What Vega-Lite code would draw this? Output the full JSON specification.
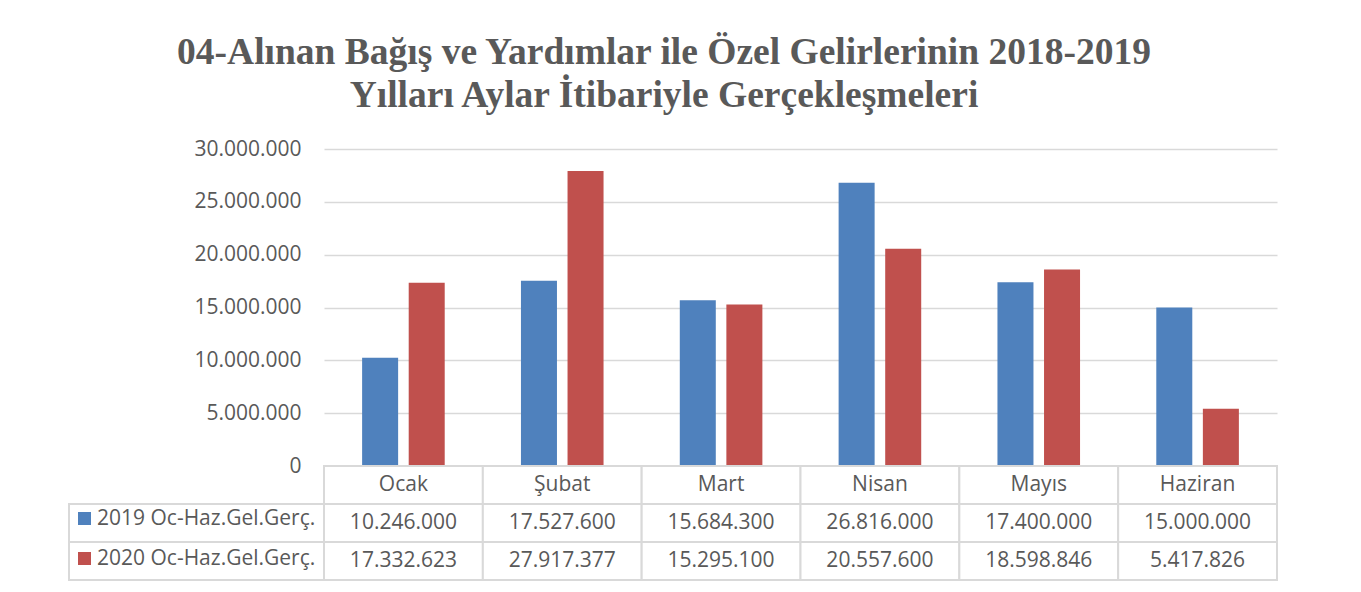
{
  "$schema": "https://vega.github.io/schema/vega-lite/v6.json",
  "background": "white",
  "padding": {"left": 68, "top": 33, "right": 10, "bottom": 5},
  "title": {
    "text": ["04-Alınan Bağış ve Yardımlar ile Özel Gelirlerinin 2018-2019", "Yılları Aylar İtibariyle Gerçekleşmeleri"],
    "font": "Liberation Serif",
    "fontSize": 37.5,
    "fontWeight": "bold",
    "color": "#595959",
    "lineHeight": 43,
    "anchor": "middle",
    "dx": -9,
    "offset": 24
  },
  "datasets": {
    "gelir": [
      {"ay": "Ocak", "seri": "2019 Oc-Haz.Gel.Gerç.", "deger": 10246000},
      {"ay": "Şubat", "seri": "2019 Oc-Haz.Gel.Gerç.", "deger": 17527600},
      {"ay": "Mart", "seri": "2019 Oc-Haz.Gel.Gerç.", "deger": 15684300},
      {"ay": "Nisan", "seri": "2019 Oc-Haz.Gel.Gerç.", "deger": 26816000},
      {"ay": "Mayıs", "seri": "2019 Oc-Haz.Gel.Gerç.", "deger": 17400000},
      {"ay": "Haziran", "seri": "2019 Oc-Haz.Gel.Gerç.", "deger": 15000000},
      {"ay": "Ocak", "seri": "2020 Oc-Haz.Gel.Gerç.", "deger": 17332623},
      {"ay": "Şubat", "seri": "2020 Oc-Haz.Gel.Gerç.", "deger": 27917377},
      {"ay": "Mart", "seri": "2020 Oc-Haz.Gel.Gerç.", "deger": 15295100},
      {"ay": "Nisan", "seri": "2020 Oc-Haz.Gel.Gerç.", "deger": 20557600},
      {"ay": "Mayıs", "seri": "2020 Oc-Haz.Gel.Gerç.", "deger": 18598846},
      {"ay": "Haziran", "seri": "2020 Oc-Haz.Gel.Gerç.", "deger": 5417826}
    ],
    "aylar": [
      {"ay": "Ocak", "satir": "Ay"},
      {"ay": "Şubat", "satir": "Ay"},
      {"ay": "Mart", "satir": "Ay"},
      {"ay": "Nisan", "satir": "Ay"},
      {"ay": "Mayıs", "satir": "Ay"},
      {"ay": "Haziran", "satir": "Ay"}
    ],
    "seriler": [
      {"satir": "2019 Oc-Haz.Gel.Gerç."},
      {"satir": "2020 Oc-Haz.Gel.Gerç."}
    ]
  },
  "columns": 2,
  "spacing": 0,
  "bounds": "flush",
  "resolve": {"scale": {"x": "independent", "y": "independent"}},
  "concat": [
    {
      "width": 255,
      "height": 317,
      "data": {"values": []},
      "mark": "point",
      "encoding": {}
    },
    {
      "width": 953,
      "height": 317,
      "data": {"name": "gelir"},
      "mark": {"type": "bar"},
      "encoding": {
        "x": {
          "field": "ay", "type": "nominal",
          "scale": {"domain": ["Ocak", "Şubat", "Mart", "Nisan", "Mayıs", "Haziran"], "paddingInner": 0.48, "paddingOuter": 0.24},
          "axis": null
        },
        "xOffset": {
          "field": "seri", "type": "nominal",
          "scale": {"paddingInner": 0.227, "paddingOuter": 0}
        },
        "y": {
          "field": "deger", "type": "quantitative",
          "scale": {"domain": [0, 30000000], "nice": false},
          "axis": {
            "title": null,
            "values": [0, 5000000, 10000000, 15000000, 20000000, 25000000, 30000000],
            "format": ",.0f",
            "domain": false,
            "ticks": false,
            "labelPadding": 23,
            "labelFont": "Open Sans",
            "labelFontSize": 21,
            "labelColor": "#595959",
            "gridColor": "#d9d9d9",
            "gridWidth": 1.5
          }
        },
        "color": {
          "field": "seri", "type": "nominal",
          "scale": {"domain": ["2019 Oc-Haz.Gel.Gerç.", "2020 Oc-Haz.Gel.Gerç."], "range": ["#4f81bd", "#c0504d"]},
          "legend": {
            "title": null,
            "orient": "none",
            "legendX": 5,
            "legendY": 359,
            "padding": 0,
            "symbolType": "square",
            "symbolSize": 169,
            "symbolStrokeWidth": 0,
            "symbolOpacity": 1,
            "labelFont": "Open Sans",
            "labelFontSize": 21,
            "labelColor": "#595959",
            "labelOffset": 2,
            "rowPadding": 18,
            "labelLimit": 300
          }
        }
      }
    },
    {
      "width": 255,
      "height": 114,
      "data": {"name": "seriler"},
      "mark": {"type": "rect", "fill": "white", "stroke": "#d9d9d9", "strokeWidth": 2},
      "encoding": {
        "y": {
          "field": "satir", "type": "nominal",
          "scale": {"domain": ["Ay", "2019 Oc-Haz.Gel.Gerç.", "2020 Oc-Haz.Gel.Gerç."], "paddingInner": 0, "paddingOuter": 0},
          "axis": null
        }
      }
    },
    {
      "width": 953,
      "height": 114,
      "layer": [
        {
          "data": {"name": "aylar"},
          "mark": {"type": "rect", "fill": "white", "stroke": "#d9d9d9", "strokeWidth": 2},
          "encoding": {
            "x": {"field": "ay", "type": "nominal", "scale": {"domain": ["Ocak", "Şubat", "Mart", "Nisan", "Mayıs", "Haziran"], "paddingInner": 0, "paddingOuter": 0}, "axis": null},
            "y": {"field": "satir", "type": "nominal", "scale": {"domain": ["Ay", "2019 Oc-Haz.Gel.Gerç.", "2020 Oc-Haz.Gel.Gerç."], "paddingInner": 0, "paddingOuter": 0}, "axis": null}
          }
        },
        {
          "data": {"name": "aylar"},
          "mark": {"type": "text", "font": "Open Sans", "fontSize": 21, "color": "#595959"},
          "encoding": {
            "x": {"field": "ay", "type": "nominal"},
            "y": {"field": "satir", "type": "nominal"},
            "text": {"field": "ay"}
          }
        },
        {
          "data": {"name": "gelir"},
          "mark": {"type": "rect", "fill": "white", "stroke": "#d9d9d9", "strokeWidth": 2},
          "encoding": {
            "x": {"field": "ay", "type": "nominal"},
            "y": {"field": "seri", "type": "nominal"}
          }
        },
        {
          "data": {"name": "gelir"},
          "mark": {"type": "text", "font": "Open Sans", "fontSize": 21, "color": "#595959"},
          "encoding": {
            "x": {"field": "ay", "type": "nominal"},
            "y": {"field": "seri", "type": "nominal"},
            "text": {"field": "deger", "type": "quantitative", "format": ",.0f"}
          }
        }
      ]
    }
  ],
  "config": {
    "view": {"stroke": null},
    "locale": {"number": {"decimal": ",", "thousands": ".", "grouping": [3], "currency": ["", " TL"]}}
  }
}
